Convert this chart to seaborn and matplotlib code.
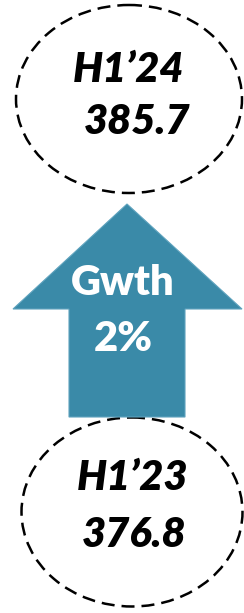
import matplotlib
matplotlib.use("Agg")
import matplotlib.pyplot as plt
from matplotlib.patches import Ellipse, Polygon
import seaborn as sns

# Data
periods = ["H1\u201923", "H1\u201924"]
values = [376.8, 385.7]
growth_label = "Gwth"
growth_pct = ["2%"]

sns.set_theme(style="white")
plt.rcParams['font.family'] = ['Lato', 'DejaVu Sans']

W, H = 244, 613
fig = plt.figure(figsize=(W / 100, H / 100), dpi=100)
ax = fig.add_axes([0, 0, 1, 1])
ax.set_xlim(0, W)
ax.set_ylim(H, 0)
ax.axis("off")

arrow_color = "#3A8AA8"

# Ellipses: bottom = earlier period, top = later period
ell_specs = [
    dict(cx=132, cy=512, w=221, h=189, ty1=478, ty2=535, tx1=133, tx2=134),  # H1'23
    dict(cx=129, cy=99, w=226, h=188, ty1=70, ty2=122, tx1=129, tx2=137),    # H1'24
]
for period, val, s in zip(periods, values, ell_specs):
    e = Ellipse((s["cx"], s["cy"]), s["w"], s["h"], fill=False,
                edgecolor="black", linewidth=1.8, linestyle=(0, (5.2, 2.8)))
    ax.add_patch(e)
    ax.text(s["tx1"], s["ty1"], period, ha="center", va="center",
            fontsize=30, fontweight="heavy", fontstyle="italic", color="black")
    ax.text(s["tx2"], s["ty2"], f"{val:.1f}", ha="center", va="center",
            fontsize=30, fontweight="heavy", fontstyle="italic", color="black")

# Up arrow
arrow_pts = [(127, 204), (242, 309), (185, 309), (185, 417),
             (69, 417), (69, 309), (13, 309)]
ax.add_patch(Polygon(arrow_pts, closed=True, facecolor=arrow_color,
                     edgecolor="#5FA3BE", linewidth=0.8))

ax.text(123, 283, growth_label, ha="center", va="center",
        fontsize=30, fontweight="heavy", color="white")
ax.text(123, 339, growth_pct[0], ha="center", va="center",
        fontsize=30, fontweight="heavy", color="white")

fig.savefig("out.png", dpi=100)
